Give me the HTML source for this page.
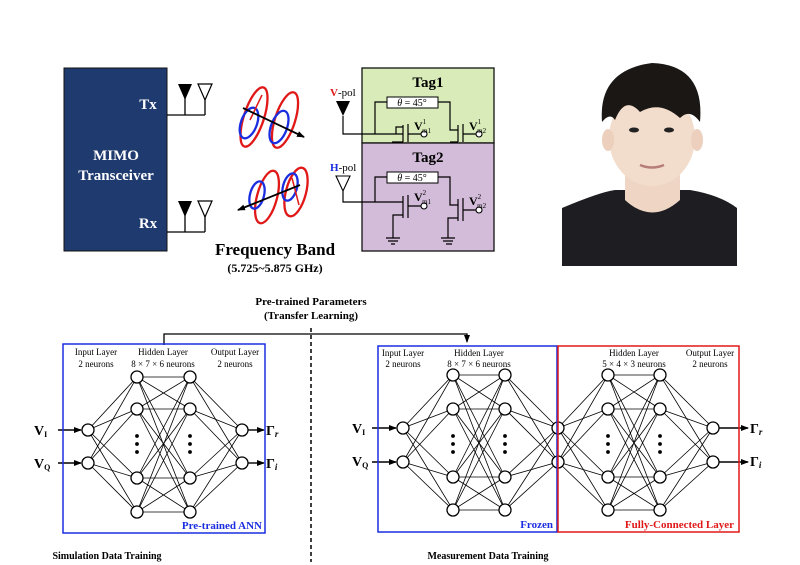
<!DOCTYPE html>
<html><head><meta charset="utf-8"><style>
html,body{margin:0;padding:0;background:#fff;}
svg{display:block;font-family:"Liberation Serif",serif;}
</style></head><body>
<svg id="s" width="800" height="565" viewBox="0 0 800 565" xmlns="http://www.w3.org/2000/svg">
<defs>
<marker id="ah" markerWidth="8" markerHeight="8" refX="7" refY="4" orient="auto" markerUnits="userSpaceOnUse"><path d="M0,1 L8,4 L0,7 z" fill="#000"/></marker>
</defs>
<!-- MIMO -->
<rect x="64" y="68" width="103" height="183" fill="#1f3a6e" stroke="#111" stroke-width="1"/>
<text x="116" y="160" fill="#fff" font-size="15" font-weight="bold" text-anchor="middle">MIMO</text>
<text x="116" y="180" fill="#fff" font-size="15" font-weight="bold" text-anchor="middle">Transceiver</text>
<text x="148" y="109" fill="#fff" font-size="15" font-weight="bold" text-anchor="middle">Tx</text>
<text x="148" y="228" fill="#fff" font-size="15" font-weight="bold" text-anchor="middle">Rx</text>
<g stroke="#000" stroke-width="1.3" fill="none">
<path d="M167,115 H205 M185,115 V90 M205,115 V90"/>
<path d="M167,232 H205 M185,232 V207 M205,232 V207"/>
</g>
<path d="M178,84 H192 L185,100 z" fill="#000"/>
<path d="M198,84 H212 L205,100 z" fill="#fff" stroke="#000" stroke-width="1.2"/>
<path d="M178,201 H192 L185,217 z" fill="#000"/>
<path d="M198,201 H212 L205,217 z" fill="#fff" stroke="#000" stroke-width="1.2"/>
<!-- waves -->
<g fill="none" stroke-width="2.3">
<ellipse cx="254" cy="117" rx="10" ry="31" transform="rotate(18 254 117)" stroke="#e01818"/>
<ellipse cx="285" cy="120" rx="10" ry="29" transform="rotate(18 285 120)" stroke="#e01818"/>
<ellipse cx="249" cy="123" rx="8" ry="16" transform="rotate(20 249 123)" stroke="#1a2ee0"/>
<ellipse cx="279" cy="127" rx="8" ry="17" transform="rotate(20 279 127)" stroke="#1a2ee0"/>
<ellipse cx="267" cy="197" rx="10" ry="27" transform="rotate(15 267 197)" stroke="#e01818"/>
<ellipse cx="296" cy="192" rx="10" ry="25" transform="rotate(15 296 192)" stroke="#e01818"/>
<ellipse cx="257" cy="195" rx="7" ry="14" transform="rotate(15 257 195)" stroke="#1a2ee0"/>
<ellipse cx="290" cy="187" rx="7" ry="14" transform="rotate(15 290 187)" stroke="#1a2ee0"/>
</g>
<line x1="262" y1="95" x2="250" y2="120" stroke="#e01818" stroke-width="1.5"/>
<line x1="292" y1="178" x2="299" y2="205" stroke="#e01818" stroke-width="1.5"/>
<line x1="243" y1="108" x2="304" y2="137" stroke="#000" stroke-width="1.8" marker-end="url(#ah)"/>
<line x1="300" y1="185" x2="238" y2="210" stroke="#000" stroke-width="1.8" marker-end="url(#ah)"/>
<text x="275" y="255" font-size="17" font-weight="bold" text-anchor="middle">Frequency Band</text>
<text x="275" y="272" font-size="12" font-weight="bold" text-anchor="middle">(5.725~5.875 GHz)</text>
<!-- tags -->
<rect x="362" y="68" width="132" height="75" fill="#d8ebb9" stroke="#111" stroke-width="1.3"/>
<rect x="362" y="143" width="132" height="108" fill="#d3bcd9" stroke="#111" stroke-width="1.3"/>
<text x="428" y="87" font-size="15" font-weight="bold" text-anchor="middle">Tag1</text>
<text x="428" y="162" font-size="15" font-weight="bold" text-anchor="middle">Tag2</text>
<text x="330" y="96" font-size="11"><tspan fill="#e01818" font-weight="bold">V</tspan>-pol</text>
<text x="330" y="171" font-size="11"><tspan fill="#1a2ee0" font-weight="bold">H</tspan>-pol</text>
<path d="M336,101 H350 L343,116 z" fill="#000"/>
<path d="M336,176 H350 L343,191 z" fill="#fff" stroke="#000" stroke-width="1.1"/>
<g stroke="#000" stroke-width="1.2" fill="none">
<path d="M343,116 V134 H403"/>
<path d="M375,134 V102 H387 M438,102 H450 V130 H458"/>
<path d="M403,125 V142 M408,124 V142 M408,134 H421"/>
<path d="M392,142 H403 M403,127 H396 V134"/>
<path d="M458,125 V142 M463,124 V142 M463,134 H476 M450,142 H458"/>
<path d="M343,191 V202 H403"/>
<path d="M375,202 V177 H387 M438,177 H450 V205 H458"/>
<path d="M403,196 V218 M408,195 V218 M408,206 H421 M403,215 H393 V238"/>
<path d="M458,199 V221 M463,198 V221 M463,210 H476 M458,218 H448 V238"/>
<path d="M386,238 H400 M388,241 H398 M391,244 H395 M441,238 H455 M443,241 H453 M446,244 H452"/>
</g>
<rect x="387" y="97" width="51" height="11" fill="#fff" stroke="#000"/>
<rect x="387" y="172" width="51" height="11" fill="#fff" stroke="#000"/>
<text x="412" y="106" font-size="10" text-anchor="middle"><tspan font-style="italic">θ</tspan> = 45°</text>
<text x="412" y="181" font-size="10" text-anchor="middle"><tspan font-style="italic">θ</tspan> = 45°</text>
<g fill="#fff" stroke="#000" stroke-width="1.1">
<circle cx="424" cy="134" r="3"/><circle cx="479" cy="134" r="3"/>
<circle cx="424" cy="206" r="3"/><circle cx="479" cy="210" r="3"/>
</g>
<g font-size="12" font-weight="bold">
<text x="414" y="130">V<tspan font-size="7" font-weight="normal" dy="-6">1</tspan><tspan font-size="7" font-weight="normal" dx="-4" dy="9">m1</tspan></text>
<text x="469" y="130">V<tspan font-size="7" font-weight="normal" dy="-6">1</tspan><tspan font-size="7" font-weight="normal" dx="-4" dy="9">m2</tspan></text>
<text x="414" y="201">V<tspan font-size="7" font-weight="normal" dy="-6">2</tspan><tspan font-size="7" font-weight="normal" dx="-4" dy="9">m1</tspan></text>
<text x="469" y="205">V<tspan font-size="7" font-weight="normal" dy="-6">2</tspan><tspan font-size="7" font-weight="normal" dx="-4" dy="9">m2</tspan></text>
</g>
<!-- photo -->
<path d="M562,208 Q600,192 615,190 L690,190 Q720,195 737,208 V266 H562 z" fill="#1e1e22"/>
<path d="M625,165 H680 V200 Q652,225 625,200 z" fill="#efd6c4"/>
<ellipse cx="652" cy="138" rx="43" ry="48" fill="#f2dccb"/>
<ellipse cx="608" cy="140" rx="6" ry="11" fill="#ecd0bd"/>
<ellipse cx="697" cy="140" rx="6" ry="11" fill="#ecd0bd"/>
<path d="M602,122 Q598,70 652,63 Q705,65 700,122 Q690,108 680,118 Q660,100 640,112 Q625,95 615,120 Q610,112 602,122 z" fill="#1b1715"/>
<ellipse cx="634" cy="130" rx="5" ry="2.5" fill="#222"/>
<ellipse cx="669" cy="130" rx="5" ry="2.5" fill="#222"/>
<path d="M640,165 Q652,170 664,165" stroke="#b77d78" stroke-width="2.5" fill="none"/>
<!-- transfer -->
<text x="311" y="305" font-size="11" font-weight="bold" text-anchor="middle">Pre-trained Parameters</text>
<text x="311" y="319" font-size="11" font-weight="bold" text-anchor="middle">(Transfer Learning)</text>
<path d="M164,345 V334 H467 V342" stroke="#000" stroke-width="1.3" fill="none" marker-end="url(#ah)"/>
<line x1="311" y1="328" x2="311" y2="562" stroke="#000" stroke-width="1.5" stroke-dasharray="4,3"/>
<g id="nets" stroke="#000" stroke-width="0.8"></g>
<rect x="63" y="344" width="202" height="189" fill="none" stroke="#1a2ee0" stroke-width="1.5"/>
<rect x="378" y="346" width="179" height="186" fill="none" stroke="#1a2ee0" stroke-width="1.5"/>
<rect x="558" y="346" width="181" height="186" fill="none" stroke="#e01818" stroke-width="1.5"/>
<g font-size="9" text-anchor="middle">
<text x="96" y="355">Input Layer</text><text x="96" y="367">2 neurons</text>
<text x="163" y="355">Hidden Layer</text><text x="163" y="367">8 × 7 × 6 neurons</text>
<text x="235" y="355">Output Layer</text><text x="235" y="367">2 neurons</text>
<text x="403" y="356">Input Layer</text><text x="403" y="367">2 neurons</text>
<text x="479" y="356">Hidden Layer</text><text x="479" y="367">8 × 7 × 6 neurons</text>
<text x="634" y="356">Hidden Layer</text><text x="634" y="367">5 × 4 × 3 neurons</text>
<text x="710" y="356">Output Layer</text><text x="710" y="367">2 neurons</text>
</g>
<g font-size="11" font-weight="bold">
<text x="262" y="529" fill="#1a2ee0" text-anchor="end">Pre-trained ANN</text>
<text x="553" y="528" fill="#1a2ee0" text-anchor="end">Frozen</text>
<text x="734" y="528" fill="#e01818" text-anchor="end">Fully-Connected Layer</text>
<text x="107" y="559" font-size="10" text-anchor="middle">Simulation Data Training</text>
<text x="488" y="559" font-size="10" text-anchor="middle">Measurement Data Training</text>
</g>
<g font-size="14" font-weight="bold">
<text x="34" y="435">V<tspan font-size="8" dy="2">I</tspan></text>
<text x="34" y="468">V<tspan font-size="8" dy="2">Q</tspan></text>
<text x="266" y="435">Γ<tspan font-size="9" font-style="italic" dy="2">r</tspan></text>
<text x="266" y="468">Γ<tspan font-size="9" font-style="italic" dy="2">i</tspan></text>
<text x="352" y="433">V<tspan font-size="8" dy="2">I</tspan></text>
<text x="352" y="466">V<tspan font-size="8" dy="2">Q</tspan></text>
<text x="750" y="433">Γ<tspan font-size="9" font-style="italic" dy="2">r</tspan></text>
<text x="750" y="466">Γ<tspan font-size="9" font-style="italic" dy="2">i</tspan></text>
</g>
</svg>
<script>
var NS="http://www.w3.org/2000/svg",g=document.getElementById("nets");
function el(t,a){var e=document.createElementNS(NS,t);for(var k in a)e.setAttribute(k,a[k]);g.appendChild(e);return e;}
function net(cols,ys,yio,arr){
 var layers=cols.map(function(x,i){return {x:x,y:(i==0||i==cols.length-1||(cols.length>4&&i==3))?yio:ys};});
 for(var i=0;i<layers.length-1;i++){var A=layers[i],B=layers[i+1];
  A.y.forEach(function(a){B.y.forEach(function(b){el("line",{x1:A.x,y1:a,x2:B.x,y2:b});});});}
 layers.forEach(function(L,i){L.y.forEach(function(y){el("circle",{cx:L.x,cy:y,r:6,fill:"#fff","stroke-width":1.3});});
  if(L.y===ys){[436,444,452].forEach(function(y){el("circle",{cx:L.x,cy:y,r:1.5,fill:"#000"});});}});
 arr.forEach(function(a){el("line",{x1:a[0],y1:a[1],x2:a[2],y2:a[1],"stroke-width":1.4,"marker-end":"url(#ah)"});});
}
net([88,137,190,242],[377,409,478,512],[430,463],[[58,430,81],[58,463,81],[248,430,264],[248,463,264]]);
net([403,453,505,558,608,660,713],[375,409,477,510],[428,462],[[372,428,396],[372,462,396],[719,428,748],[719,462,748]]);
</script>
</body></html>
